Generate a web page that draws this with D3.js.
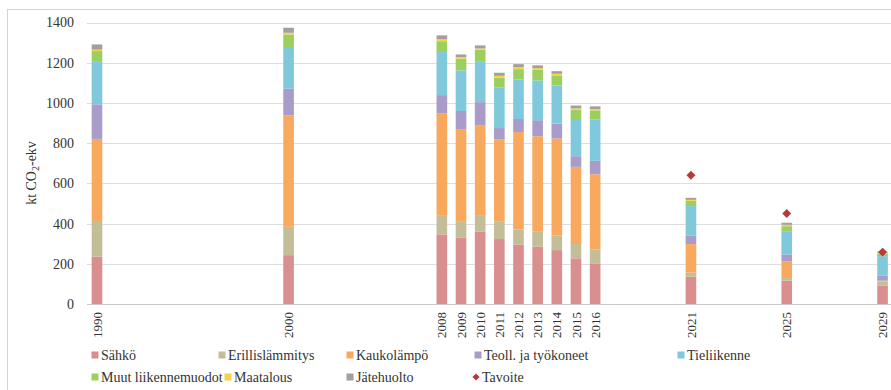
<!DOCTYPE html>
<html>
<head>
<meta charset="utf-8">
<script src="https://cdn.jsdelivr.net/npm/d3@7"></script>
<style>
  html, body { margin: 0; padding: 0; background: #fff; }
  svg { display: block; }
  text { font-family: "Liberation Serif", "Times New Roman", serif; fill: #333; }
</style>
</head>
<body>
<svg id="chart" width="891" height="390"></svg>
<script>
// ---- Data ----
// x axis slots (blank slots are gaps in the category axis)
const categories = [
  "1990","","","","","","","","","",
  "2000","","","","","","","",
  "2008","2009","2010","2011","2012","2013","2014","2015","2016",
  "","","","",
  "2021","","","","",
  "2025","","","","",
  "2029"
];
const years = ["1990","2000","2008","2009","2010","2011","2012","2013","2014","2015","2016","2021","2025","2029"];
const seriesNames = ["Sähkö","Erillislämmitys","Kaukolämpö","Teoll. ja työkoneet","Tieliikenne","Muut liikennemuodot","Maatalous","Jätehuolto"];
const sahko          = [235, 243, 346, 329, 359, 323, 296, 285, 268, 227, 202, 136, 116, 92];
const erillis        = [178, 141,  96,  83,  83,  86,  75,  74,  73,  71,  70,  20,  13, 20];
const kaukolampo     = [408, 554, 505, 455, 445, 409, 484, 475, 482, 384, 373, 142,  84,  4];
const teoll          = [172, 133,  92,  93, 117,  57,  65,  80,  74,  53,  67,  41,  34, 24];
const tieliikenne    = [215, 207, 214, 202, 204, 201, 196, 198, 190, 185, 205, 148, 115, 98];
const muut           = [ 50,  62,  54,  58,  57,  50,  52,  53,  50,  47,  46,  26,  25, 12];
const maatalous      = [  7,   9,  10,   8,   6,   9,  10,   8,   8,   6,   7,   5,   7,  5];
const jatehuolto     = [ 26,  25,  19,  13,  15,  15,  15,  14,  13,  14,  13,  10,  10,  5];
const tavoiteYears   = ["2021","2025","2029"];
const tavoite        = [640, 450, 258];
const yTicks         = [0, 200, 400, 600, 800, 1000, 1200, 1400];

const seriesValues = [sahko, erillis, kaukolampo, teoll, tieliikenne, muut, maatalous, jatehuolto];
const colors = ["#d98f90","#c3bd98","#f9a95d","#a99cc8","#80c9dc","#9dcf5e","#f4d24a","#a49f9b"];
const tavoiteColor = "#b53b3a";

// ---- Build table ----
const rows = years.map((y, i) => {
  const r = { year: y };
  seriesNames.forEach((s, k) => r[s] = seriesValues[k][i]);
  return r;
});
const stacked = d3.stack().keys(seriesNames)(rows);

const svg = d3.select("#chart");

// frame
svg.append("rect").attr("x", 7.5).attr("y", 9.5).attr("width", 900).attr("height", 400)
  .attr("fill", "none").attr("stroke", "#d4d4d4");

const x = d3.scaleBand()
  .domain(d3.range(categories.length))
  .range([87.4, 87.4 + 42 * 19.16])
  .paddingInner(0.445)
  .paddingOuter(0.2225);
const xi = yr => categories.indexOf(yr);

const y = d3.scaleLinear().domain([0, 1400]).range([304, 22.5]);

// gridlines
svg.append("g").selectAll("line").data(yTicks).join("line")
  .attr("x1", 87).attr("x2", 891)
  .attr("y1", d => Math.round(y(d)) + 0.5).attr("y2", d => Math.round(y(d)) + 0.5)
  .attr("stroke", d => d === 0 ? "#c8c8c8" : "#dedede").attr("stroke-width", 1);

// y axis labels
const yAxis = d3.axisLeft(y).tickValues(yTicks).tickFormat(d3.format("d")).tickSize(0).tickPadding(0);
const gy = svg.append("g").attr("transform", "translate(74,0)").call(yAxis);
gy.attr("font-family", null);
gy.select(".domain").remove();
gy.selectAll("text").attr("font-size", 14).attr("fill", "#333");

// y title
const yt = svg.append("text")
  .attr("transform", "translate(36,173) rotate(-90)")
  .attr("text-anchor", "middle")
  .attr("font-size", 14);
yt.append("tspan").text("kt CO");
yt.append("tspan").attr("font-size", 10).attr("dy", 3).text("2");
yt.append("tspan").attr("dy", -3).text("-ekv");

// bars
svg.append("g").selectAll("g").data(stacked).join("g")
  .attr("fill", (d, i) => colors[i])
  .selectAll("rect").data(d => d).join("rect")
  .attr("x", d => x(xi(d.data.year)))
  .attr("width", x.bandwidth())
  .attr("y", d => y(d[1]))
  .attr("height", d => y(d[0]) - y(d[1]));

// x axis labels
const xAxis = d3.axisBottom(x).tickValues(years.map(xi)).tickFormat(i => categories[i]).tickSize(0).tickPadding(0);
const gx = svg.append("g").attr("transform", "translate(0,304)").call(xAxis);
gx.attr("font-family", null);
gx.select(".domain").remove();
gx.selectAll("text")
  .attr("font-size", 13).attr("fill", "#333")
  .attr("transform", "rotate(-90)")
  .attr("text-anchor", "end")
  .attr("x", -8).attr("y", 0).attr("dy", "0.35em");

// tavoite markers (square rotated 45°)
const diamond = d3.symbol().type(d3.symbolSquare).size(40);
svg.append("g").selectAll("path").data(tavoite).join("path")
  .attr("d", diamond)
  .attr("fill", tavoiteColor)
  .attr("transform", (d, i) => `translate(${x(xi(tavoiteYears[i])) + x.bandwidth() / 2},${y(d)}) rotate(45)`);

// legend
const legendItems = seriesNames.map((n, i) => ({ name: n, color: colors[i], type: "square" }))
  .concat([{ name: "Tavoite", color: tavoiteColor, type: "diamond" }]);
const legendPos = [
  [95, 355], [222, 355], [350, 355], [478, 355], [681, 355],
  [95, 377], [228, 377], [350, 377], [476, 377]
];
const lg = svg.append("g").selectAll("g").data(legendItems).join("g")
  .attr("transform", (d, i) => `translate(${legendPos[i][0]},${legendPos[i][1]})`);
lg.filter(d => d.type === "square").append("rect")
  .attr("x", -3.5).attr("y", -3.5).attr("width", 7).attr("height", 7)
  .attr("fill", d => d.color);
lg.filter(d => d.type === "diamond").append("path")
  .attr("d", d3.symbol().type(d3.symbolSquare).size(26))
  .attr("transform", "rotate(45)")
  .attr("fill", d => d.color);
lg.append("text").attr("x", 6).attr("y", 0).attr("dy", "0.35em")
  .attr("font-size", 14).attr("fill", "#333")
  .text(d => d.name);
</script>
</body>
</html>
